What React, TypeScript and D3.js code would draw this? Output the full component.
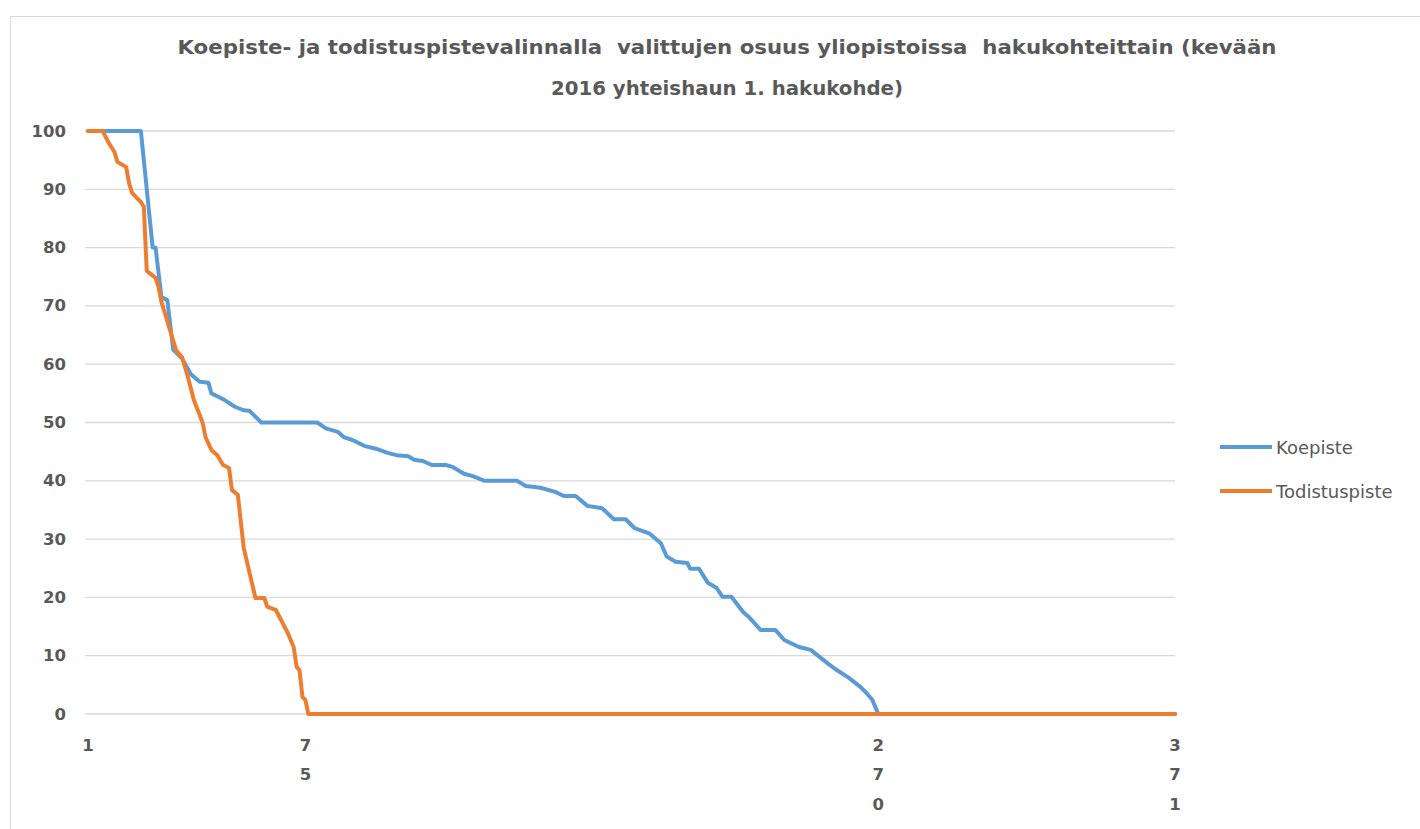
import React from "react";
import * as d3 from "d3";

const titleLines = [
  "Koepiste- ja todistuspistevalinnalla  valittujen osuus yliopistoissa  hakukohteittain (kevään",
  "2016 yhteishaun 1. hakukohde)",
];
const titleWidths = [1099, 352];
const seriesNames = ["Koepiste", "Todistuspiste"];
const seriesColors = ["#5B9BD5", "#ED7D31"];
const categoryCount = 371;
const xTickLabels = ["1", "75", "270", "371"];
const yTicks = [0, 10, 20, 30, 40, 50, 60, 70, 80, 90, 100];

// Koepiste: category index (hakukohde) and share (%)
const koepisteIdx = [1, 19, 21, 23, 24, 26, 28, 30, 33, 36, 39, 42, 43, 47, 51, 54, 56, 60, 79, 82, 86, 88, 91, 95, 99, 103, 106, 110, 112, 115, 118, 123, 125, 129, 132, 136, 147, 150, 155, 160, 163, 167, 171, 176, 180, 184, 187, 192, 196, 198, 201, 205, 206, 209, 212, 215, 217, 220, 224, 226, 230, 235, 238, 243, 247, 250, 253, 256, 260, 264, 266, 268, 270, 371];
const koepisteVal = [100, 100, 90, 80, 80, 71.5, 71, 62.5, 61, 58.3, 57, 56.8, 55, 54, 52.7, 52.1, 52, 50, 50, 49, 48.4, 47.5, 47, 46, 45.5, 44.8, 44.4, 44.2, 43.6, 43.4, 42.7, 42.7, 42.4, 41.2, 40.8, 40, 40, 39.1, 38.8, 38.1, 37.4, 37.4, 35.7, 35.3, 33.4, 33.4, 31.9, 31, 29.3, 27, 26.1, 25.9, 24.9, 24.9, 22.5, 21.6, 20.1, 20.1, 17.5, 16.6, 14.4, 14.4, 12.7, 11.5, 11, 9.8, 8.6, 7.5, 6.2, 4.6, 3.6, 2.4, 0, 0];

// Todistuspiste
const todistusIdx = [1, 6, 8, 10, 11, 14, 15, 16, 19, 20, 21, 24, 25, 26, 31, 33, 35, 37, 40, 41, 43, 45, 47, 49, 50, 52, 54, 58, 61, 62, 65, 69, 71, 72, 73, 74, 75, 76, 371];
const todistusVal = [100, 100, 98, 96.4, 94.7, 93.8, 91, 89.4, 87.8, 87, 76, 74.8, 73.2, 70.7, 62.4, 61.2, 57.8, 53.9, 50, 47.5, 45.3, 44.4, 42.7, 42.2, 38.4, 37.6, 28.5, 19.9, 19.9, 18.4, 17.8, 13.9, 11.5, 8.1, 7.5, 2.9, 2.4, 0, 0];

const W = 1420;
const H = 829;
const textColor = "#595959";
const fontFamily = "'DejaVu Sans', sans-serif";

export default function App() {
  const x = d3.scaleLinear().domain([1, categoryCount]).range([88, 1175]);
  const y = d3.scaleLinear().domain([0, 100]).range([714, 131]);

  const series = [
    koepisteIdx.map((c, i) => [c, koepisteVal[i]] as [number, number]),
    todistusIdx.map((c, i) => [c, todistusVal[i]] as [number, number]),
  ];
  const line = d3
    .line<[number, number]>()
    .x((d) => x(d[0]))
    .y((d) => y(d[1]));

  return (
    <svg
      width={W}
      height={H}
      style={{ position: "absolute", left: 0, top: 0, background: "#fff" }}
      fontFamily={fontFamily}
    >
      <rect x={0} y={0} width={W} height={H} fill="#fff" />
      <rect x={10.5} y={16.5} width={W + 20} height={H + 20} fill="none" stroke="#d9d9d9" strokeWidth={1} />

      {titleLines.map((t, i) => (
        <text
          key={i}
          x={727}
          y={47 + i * 41}
          textAnchor="middle"
          dominantBaseline="central"
          fontSize={20}
          fontWeight="bold"
          fill={textColor}
          textLength={titleWidths[i]}
          lengthAdjust="spacingAndGlyphs"
          style={{ whiteSpace: "pre" }}
        >
          {t}
        </text>
      ))}

      {yTicks.map((v) => (
        <g key={v}>
          <line x1={x(1) - 3} x2={x(categoryCount)} y1={y(v)} y2={y(v)} stroke="#d9d9d9" strokeWidth={1.3} />
          <text
            x={66}
            y={y(v)}
            textAnchor="end"
            dominantBaseline="central"
            fontSize={16.5}
            fontWeight="bold"
            fill={textColor}
          >
            {v}
          </text>
        </g>
      ))}

      {xTickLabels.map((lab) => (
        <g key={lab}>
          {lab.split("").map((ch, j) => (
            <text
              key={j}
              x={x(+lab)}
              y={745 + j * 29.5}
              textAnchor="middle"
              dominantBaseline="central"
              fontSize={16.5}
              fontWeight="bold"
              fill={textColor}
            >
              {ch}
            </text>
          ))}
        </g>
      ))}

      {series.map((s, i) => (
        <path
          key={i}
          d={line(s) || ""}
          fill="none"
          stroke={seriesColors[i]}
          strokeWidth={4}
          strokeLinejoin="round"
          strokeLinecap="round"
        />
      ))}

      {seriesNames.map((n, i) => (
        <g key={n}>
          <line x1={1220} x2={1272} y1={447 + i * 44} y2={447 + i * 44} stroke={seriesColors[i]} strokeWidth={4} />
          <text x={1276} y={447 + i * 44} dominantBaseline="central" fontSize={18} fill={textColor}>
            {n}
          </text>
        </g>
      ))}
    </svg>
  );
}
